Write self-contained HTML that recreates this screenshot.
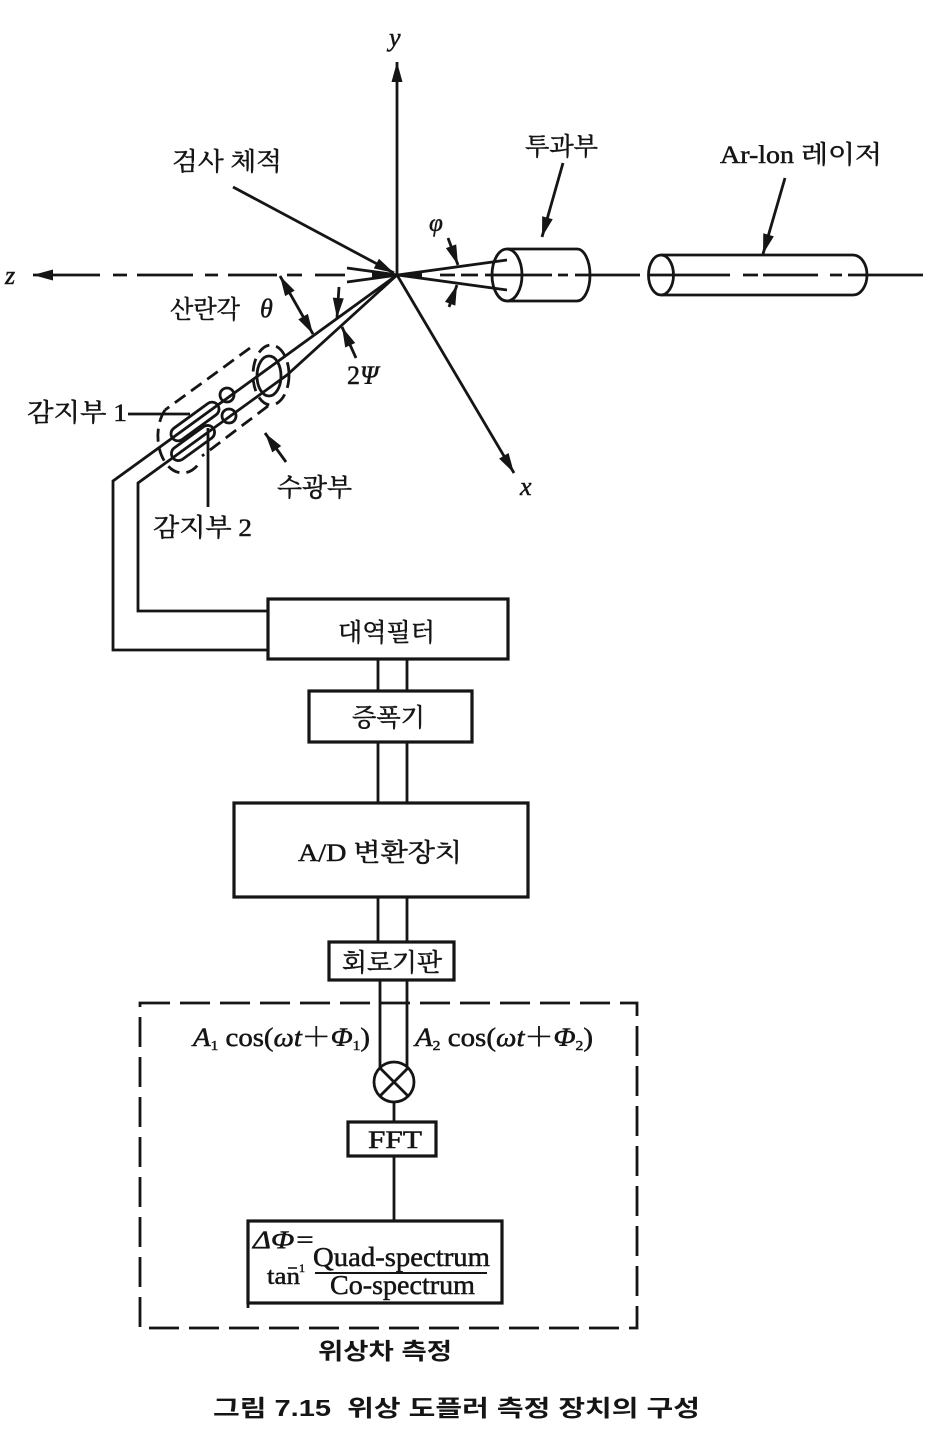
<!DOCTYPE html>
<html><head><meta charset="utf-8"><style>
html,body{margin:0;padding:0;background:#fff;}
svg{display:block}
.s{font-family:"Liberation Serif","Noto Serif CJK SC",serif;fill:#151515;stroke:#151515;stroke-width:0.5}
.g{font-family:"Liberation Sans","Noto Sans CJK KR",sans-serif;fill:#151515;font-weight:bold}
.i{font-style:italic}
</style></head><body>
<svg width="930" height="1437" viewBox="0 0 930 1437" xmlns="http://www.w3.org/2000/svg">
<defs>
<marker id="a" viewBox="0 0 20 12" refX="20" refY="6" markerWidth="21" markerHeight="12" markerUnits="userSpaceOnUse" orient="auto-start-reverse"><path d="M0,0.5 L20,6 L0,11.5 z" fill="#151515"/></marker>
</defs>
<g stroke="#151515" stroke-width="2.8" fill="none">
<!-- axes -->
<line x1="397" y1="275" x2="397" y2="62" marker-end="url(#a)"/>
<line x1="100" y1="275" x2="33" y2="275" marker-end="url(#a)"/>
<path d="M113,275H127M137,275H193M205,275H218M228,275H277M287,275H302M315,275H345"/>
<line x1="397" y1="275" x2="514" y2="473" marker-end="url(#a)"/>
<!-- inspection volume arrow -->
<line x1="233" y1="187" x2="394" y2="273" marker-end="url(#a)"/>
<!-- transmitter beams -->
<line x1="507" y1="260" x2="347" y2="282"/>
<line x1="507" y1="290" x2="347" y2="268"/>
<path d="M440,275H455M461,275H478M485,275H552M558,275H568M575,275H590M590,275H640"/>
<!-- transmitter cylinder -->
<ellipse cx="507" cy="275" rx="15" ry="26"/>
<path d="M507,249H577M507,301H577M577,249A13,26 0 0,1 577,301"/>
<!-- laser -->
<ellipse cx="661" cy="275" rx="12.5" ry="20"/>
<path d="M661,255H853M661,295H853M853,255A14,20 0 0,1 853,295"/>
<path d="M648,275H730M743,275H758M763,275H818M830,275H842M848,275H923"/>
<!-- label arrows -->
<line x1="563" y1="163" x2="542" y2="237" marker-end="url(#a)"/>
<line x1="785" y1="178" x2="763" y2="254" marker-end="url(#a)"/>
<line x1="448" y1="238" x2="458" y2="265" marker-end="url(#a)"/>
<line x1="449" y1="307" x2="457" y2="285" marker-end="url(#a)"/>
<line x1="280" y1="276" x2="313" y2="334" marker-start="url(#a)" marker-end="url(#a)"/>
<line x1="339" y1="287" x2="337" y2="318" marker-end="url(#a)"/>
<line x1="356" y1="358" x2="342" y2="327" marker-end="url(#a)"/>
<line x1="286" y1="462" x2="265" y2="433" marker-end="url(#a)"/>
<!-- receiver lines / fibers -->
<path d="M397,275L113,481V650H268"/>
<path d="M397,275L287,375L138,483V611H268"/>
<!-- housing dashed -->
<g stroke-dasharray="13 7">
<ellipse cx="271" cy="375" rx="18" ry="30"/>
<line x1="250" y1="348" x2="165" y2="410"/>
<line x1="268" y1="406" x2="202" y2="456"/>
<path d="M165,410A20,30 0 1,0 200,462"/>
</g>
<ellipse cx="269" cy="376" rx="12" ry="20"/>
<circle cx="227" cy="395" r="7"/>
<circle cx="229" cy="416" r="7"/>
<rect x="-28" y="-7" width="56" height="14" rx="7" transform="translate(195,421.5) rotate(-36)"/>
<rect x="-25" y="-7" width="50" height="14" rx="7" transform="translate(193,443) rotate(-36)"/>
<path d="M128,414H190M208,428V507"/>
<!-- boxes -->
<g stroke-width="3.2">
<rect x="268" y="599" width="240" height="60"/>
<rect x="309" y="691" width="163" height="51"/>
<rect x="234" y="803" width="294" height="94"/>
<rect x="329" y="942" width="125" height="38"/>
<rect x="348" y="1122" width="88" height="34"/>
<rect x="248" y="1221" width="254" height="82"/>
</g>
<path d="M378,659V691M407,659V691M378,742V803M407,742V803M378,897V942M407,897V942M380,980V1068M407,980V1067"/>
<circle cx="394" cy="1082" r="20"/>
<path d="M380,1068L408,1096M408,1068L380,1096"/>
<path d="M394,1102V1122M394,1156V1221"/>
<path d="M248,1303V1308"/>
<line x1="315" y1="1273" x2="487" y2="1273" stroke-width="2"/>
<line x1="288" y1="1268" x2="297" y2="1268" stroke-width="1.6"/>
<rect x="140" y="1003" width="497" height="325" stroke-dasharray="30 10"/>
</g>
<!-- dark wedges at origin -->
<g fill="#151515">
<polygon points="372,271.5 397,275 372,278.5"/>
<polygon points="397,275 422,271.4 422,278.6"/>
<polygon points="397,275 378,288 380,291"/>
</g>
<!-- text -->
<text class="s i" x="389" y="46" font-size="26">y</text>
<text class="s i" x="5" y="284" font-size="26">z</text>
<text class="s i" x="520" y="495" font-size="26">x</text>
<text class="s" x="172" y="170" font-size="25" textLength="110" lengthAdjust="spacingAndGlyphs">검사 체적</text>
<text class="s" x="525" y="155" font-size="25" textLength="73" lengthAdjust="spacingAndGlyphs">투과부</text>
<text class="s" x="720" y="163" font-size="25" textLength="162" lengthAdjust="spacingAndGlyphs">Ar-lon 레이저</text>
<text class="s i" x="429" y="231" font-size="25">φ</text>
<text class="s" x="170" y="318" font-size="25" textLength="70" lengthAdjust="spacingAndGlyphs">산란각</text>
<text class="s i" x="260" y="317" font-size="26">θ</text>
<text class="s" x="347" y="384" font-size="26">2<tspan class="i">Ψ</tspan></text>
<text class="s" x="27" y="421" font-size="25" textLength="100" lengthAdjust="spacingAndGlyphs">감지부 1</text>
<text class="s" x="153" y="536" font-size="25" textLength="99" lengthAdjust="spacingAndGlyphs">감지부 2</text>
<text class="s" x="277" y="496" font-size="25" textLength="75" lengthAdjust="spacingAndGlyphs">수광부</text>
<text class="s" x="338" y="641" font-size="25" textLength="97" lengthAdjust="spacingAndGlyphs">대역필터</text>
<text class="s" x="352" y="726" font-size="25" textLength="73" lengthAdjust="spacingAndGlyphs">증폭기</text>
<text class="s" x="298" y="861" font-size="25" textLength="164" lengthAdjust="spacingAndGlyphs">A/D 변환장치</text>
<text class="s" x="342" y="971" font-size="25" textLength="100" lengthAdjust="spacingAndGlyphs">회로기판</text>
<text class="s" x="193" y="1046" font-size="26" textLength="177" lengthAdjust="spacingAndGlyphs"><tspan class="i">A</tspan><tspan font-size="14" dy="4">1</tspan><tspan dy="-4"> cos(</tspan><tspan class="i">ωt</tspan>＋<tspan class="i">Φ</tspan><tspan font-size="14" dy="4">1</tspan><tspan dy="-4">)</tspan></text>
<text class="s" x="415" y="1046" font-size="26" textLength="178" lengthAdjust="spacingAndGlyphs"><tspan class="i">A</tspan><tspan font-size="14" dy="4">2</tspan><tspan dy="-4"> cos(</tspan><tspan class="i">ωt</tspan>＋<tspan class="i">Φ</tspan><tspan font-size="14" dy="4">2</tspan><tspan dy="-4">)</tspan></text>
<text class="s" x="368" y="1148" font-size="25" textLength="54" lengthAdjust="spacingAndGlyphs">FFT</text>
<text class="s i" x="253" y="1248" font-size="25" textLength="62" lengthAdjust="spacingAndGlyphs">ΔΦ=</text>
<text class="s" x="313" y="1266" font-size="27" textLength="177" lengthAdjust="spacingAndGlyphs">Quad-spectrum</text>
<text class="s" x="267" y="1284" font-size="24" textLength="33" lengthAdjust="spacingAndGlyphs">tan</text>
<text class="s" x="299" y="1272" font-size="12">1</text>
<text class="s" x="330" y="1294" font-size="27" textLength="145" lengthAdjust="spacingAndGlyphs">Co-spectrum</text>
<text class="g" x="318" y="1359" font-size="23" textLength="134" lengthAdjust="spacingAndGlyphs">위상차 측정</text>
<text class="g" x="213" y="1416" font-size="23" textLength="487" lengthAdjust="spacingAndGlyphs" xml:space="preserve">그림 7.15  위상 도플러 측정 장치의 구성</text>
</svg>
</body></html>
